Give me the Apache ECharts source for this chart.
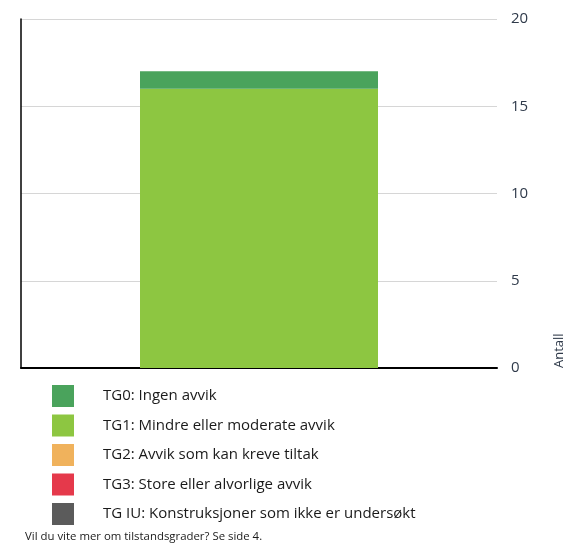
<!DOCTYPE html>
<html>
<head>
<meta charset="utf-8">
<script src="https://cdn.jsdelivr.net/npm/echarts@6/dist/echarts.min.js"></script>
<style>
  html, body { margin: 0; padding: 0; background: #fff; }
  #chart { width: 564px; height: 545px; }
</style>
</head>
<body>
<div id="chart"></div>
<script>
// tilstandsgrader
const categories = ['Bygg']
const seriesNames = ['TG0: Ingen avvik', 'TG1: Mindre eller moderate avvik', 'TG2: Avvik som kan kreve tiltak', 'TG3: Store eller alvorlige avvik', 'TG IU: Konstruksjoner som ikke er undersøkt']
const seriesColors = ['#4aa35c', '#8dc641', '#f0b25c', '#e5394b', '#5b5b5b']
const seriesValues = [[1], [16], [0], [0], [0]]
// rekkefølge i stabelen, nederst først
const stackOrder = [1, 0, 2, 3, 4]

const chart = echarts.init(document.getElementById('chart'))

const series = stackOrder.map(function (i) {
  return {
    name: seriesNames[i],
    type: 'bar',
    stack: 'tg',
    barWidth: '50%',
    data: seriesValues[i],
    itemStyle: { color: seriesColors[i] },
    emphasis: { disabled: true }
  }
})

const option = {
  animation: false,
  textStyle: { fontFamily: 'Open Sans' },
  grid: { left: 21, right: 67, top: 19, bottom: 177, containLabel: false },
  xAxis: {
    type: 'category',
    data: categories,
    axisLine: { show: true, lineStyle: { color: '#000', width: 2 } },
    axisTick: { show: false },
    axisLabel: { show: false }
  },
  yAxis: [
    {
      type: 'value',
      position: 'right',
      min: 0,
      max: 20,
      interval: 5,
      axisLine: { show: false },
      axisTick: { show: false },
      axisLabel: { color: '#2f3a4a', fontSize: 15, margin: 14, fontFamily: 'Open Sans' },
      splitLine: { lineStyle: { color: '#d6d6d6', width: 1 } }
    },
    {
      type: 'value',
      position: 'left',
      min: 0,
      max: 20,
      interval: 5,
      axisLine: { show: true, lineStyle: { color: '#000', width: 1.5 } },
      axisTick: { show: false },
      axisLabel: { show: false },
      splitLine: { show: false }
    }
  ],
  legend: {
    orient: 'vertical',
    left: 52,
    top: 385,
    padding: 0,
    itemWidth: 22,
    itemHeight: 22,
    itemGap: 7.5,
    icon: 'rect',
    selectedMode: false,
    data: seriesNames,
    textStyle: { fontSize: 15, color: '#1a1a1a', fontFamily: 'Open Sans', padding: [0, 0, 0, 24] }
  },
  graphic: [
    {
      type: 'text',
      x: 559,
      y: 368,
      rotation: Math.PI / 2,
      style: { text: 'Antall', fontSize: 13, fill: '#2f3a4a', fontFamily: 'Open Sans', align: 'left', verticalAlign: 'middle' }
    },
    {
      type: 'text',
      left: 25,
      top: 531,
      style: { text: 'Vil du vite mer om tilstandsgrader? Se side 4.', fontSize: 11.4, fill: '#1a1a1a', fontFamily: 'Open Sans' }
    }
  ],
  series: series
}

chart.setOption(option)
</script>
</body>
</html>
